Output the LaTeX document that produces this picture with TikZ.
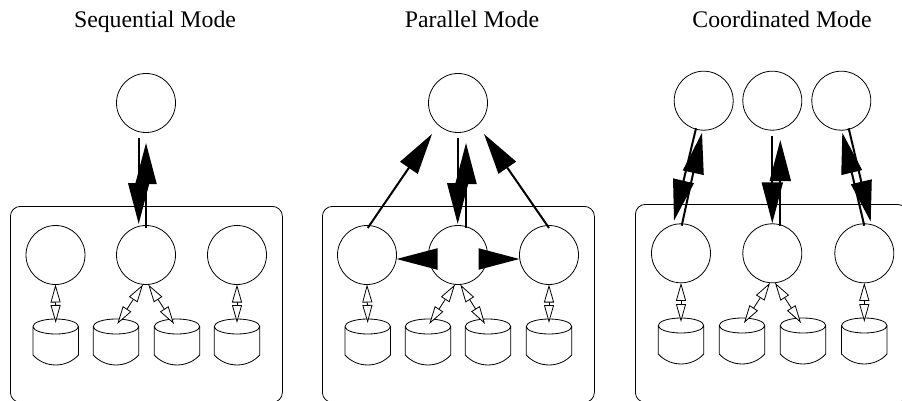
\documentclass[tikz,border=0pt]{standalone}
\usepackage{fontspec}
\setmainfont{Liberation Serif}
\usetikzlibrary{arrows.meta}
\tikzset{
	proc/.style = {circle, draw, line width = 0.8pt, minimum size = 59pt, inner sep = 0pt, outer sep = 0pt},
	panel/.style = {draw, line width = 0.8pt, rounded corners = 10pt, anchor = north west, inner sep = 0pt},
	drumbox/.style = {minimum width = 45.5pt, minimum height = 46pt, inner sep = 0pt, outer sep = 0pt},
	msg/.style = {line width = 2pt, -{Triangle[length = 41pt, width = 21pt]}},
	io/.style = {line width = 0.8pt, {Triangle[open, length = 18pt, width = 10pt, fill = white]}-{Triangle[open, length = 18pt, width = 10pt, fill = white]}},
	caption/.style = {font = \fontsize{23.8}{26}\selectfont, inner sep = 0pt, anchor = base}
}
\begin{document}
\begin{tikzpicture}[x = 1pt, y = -1pt]
	\useasboundingbox (0,0) rectangle (902,401);

	\node [caption] (titleseq) at (155,28) {Sequential Mode};
	\node [caption] (titlepar) at (472,28) {Parallel Mode};
	\node [caption] (titleco)  at (782,28) {Coordinated Mode};

	\node [panel, minimum width = 272pt, minimum height = 196pt] (boxseq) at (10,206) {};
	\node [panel, minimum width = 272pt, minimum height = 196pt] (boxpar) at (322,206) {};
	\node [panel, minimum width = 272pt, minimum height = 198pt] (boxco) at (635,204) {};

	\foreach \n/\x/\y in {topseq/146/103, aseq/55.5/255, bseq/146/255, cseq/237/255,
			toppar/458/103, apar/367/255, bpar/458/255, cpar/549/255,
			topa/703.7/100.7, topb/772.3/100.7, topc/841.3/100.7, aco/681/253.3, bco/772.3/253.3, cco/864.3/253.3}{
			\node [proc] (\n) at (\x,\y) {};
		}

	\foreach \n/\x/\y in {dseq/55.7/342, eseq/116/342, fseq/177/342, gseq/237/342,
			dpar/367.7/342, epar/428/342, fpar/488/342, gpar/549/342,
			dco/681/341, eco/742/341, fco/803/341, gco/864.3/341}{
			\node [drumbox] (\n) at (\x,\y) {};
			\draw [line width = 0.8pt] (\n.north west)++(0,7.5) arc [start angle = 180, end angle = -180, x radius = 22.75, y radius = 7.5]
			--++(0,28.5) .. controls +(12,13.3) and +(-12,13.3) .. ++(45.5,0) --++(0,-28.5);
		}

	% sequential
	\draw [msg] ([shift={(-7.3,35)}]topseq.center) -- ([shift={(-7.3,-31)}]bseq.center);
	\draw [msg] ([shift={(0,-27)}]bseq.center) -- ([shift={(0,40)}]topseq.center);
	\draw [io] (aseq.south) -- ([yshift=-4pt]dseq.north);
	\draw [io] ([xshift=-3pt]bseq.south) -- ([shift={(1.3pt,-5pt)}]eseq.north);
	\draw [io] ([xshift=2.3pt]bseq.south) -- ([shift={(-3pt,-5pt)}]fseq.north);
	\draw [io] (cseq.south) -- ([yshift=-4pt]gseq.north);

	% parallel
	\draw [msg] ([shift={(0.7,-27)}]apar.center) -- ([shift={(-26,31)}]toppar.center);
	\draw [msg] ([shift={(0,-27)}]cpar.center) -- ([shift={(26,31)}]toppar.center);
	\draw [msg] ([shift={(-0.3,35)}]toppar.center) -- ([shift={(-0.3,-31)}]bpar.center);
	\draw [msg] ([shift={(8,-27)}]bpar.center) -- ([shift={(8,40)}]toppar.center);
	\draw [msg] ([shift={(-22,4)}]bpar.center) -- ([yshift=-4pt]apar.east);
	\draw [msg] ([shift={(22,4)}]bpar.center) -- ([yshift=-4pt]cpar.west);
	\draw [io] (apar.south) -- ([yshift=-4pt]dpar.north);
	\draw [io] ([xshift=-3pt]bpar.south) -- ([shift={(1.3pt,-5pt)}]epar.north);
	\draw [io] ([xshift=2.3pt]bpar.south) -- ([shift={(-3pt,-5pt)}]fpar.north);
	\draw [io] (cpar.south) -- ([yshift=-4pt]gpar.north);

	% coordinated
	\draw [msg] ([shift={(-7.7,27.6)}]topa.center) -- ([shift={(-7,-32.6)}]aco.center);
	\draw [msg] ([shift={(0.7,-27.6)}]aco.center) -- ([shift={(-1.7,32)}]topa.center);
	\draw [msg] ([shift={(0,35.3)}]topb.center) -- ([shift={(0,-30)}]bco.center);
	\draw [msg] ([shift={(8,-27.3)}]bco.center) -- ([shift={(8,39.3)}]topb.center);
	\draw [msg] ([shift={(7.4,27.6)}]topc.center) -- ([shift={(6.4,-31.6)}]cco.center);
	\draw [msg] ([shift={(0,-27.6)}]cco.center) -- ([shift={(1,32)}]topc.center);
	\draw [io] (aco.south) -- ([yshift=-4pt]dco.north);
	\draw [io] ([xshift=-2.3pt]bco.south) -- ([shift={(2pt,-5pt)}]eco.north);
	\draw [io] ([xshift=2.7pt]bco.south) -- ([shift={(-2pt,-5pt)}]fco.north);
	\draw [io] (cco.south) -- ([yshift=-4pt]gco.north);
\end{tikzpicture}
\end{document}
